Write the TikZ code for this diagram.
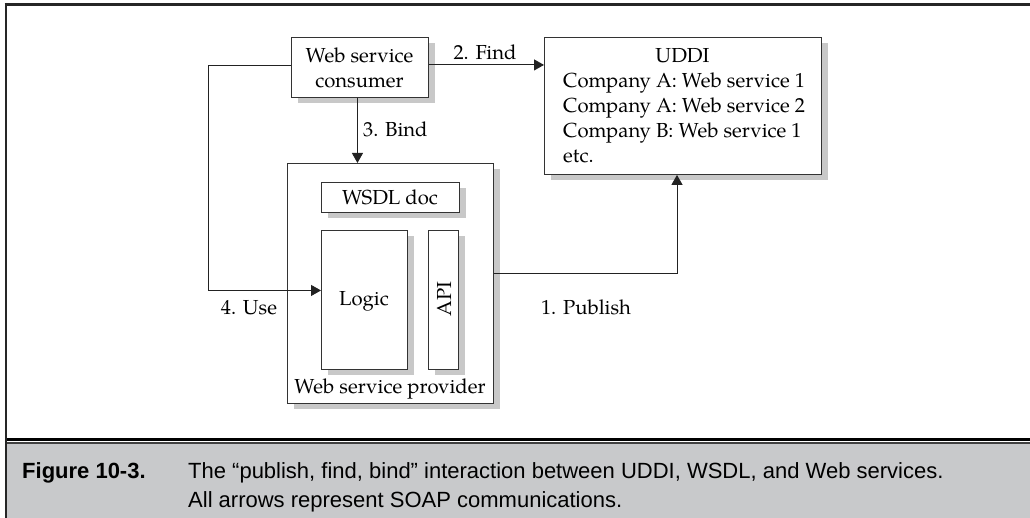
\documentclass[tikz,border=0pt]{standalone}
\usepackage{fontspec}
\setmainfont{TeX Gyre Pagella}
\newfontfamily\capfont{Liberation Sans}
\usetikzlibrary{arrows.meta,shadows}
\definecolor{shadowgray}{HTML}{C8C8C8}
\definecolor{capgray}{HTML}{C8C9CB}
\definecolor{boxline}{HTML}{333333}
\definecolor{conline}{HTML}{222222}
\tikzset{
  box/.style={draw=boxline, fill=white, line width=0.9pt, inner sep=0pt, anchor=north west,
    drop shadow={shadow xshift=7pt, shadow yshift=-6pt, fill=shadowgray, opacity=1}},
  txt/.style={font=\fontsize{20.3}{25}\selectfont, inner sep=0pt, anchor=base},
  ltxt/.style={txt, anchor=base west},
  captxt/.style={font=\capfont\fontsize{22}{30}\selectfont, inner sep=0pt, anchor=base west},
  conn/.style={draw=conline, line width=0.9pt},
  arr/.style={conn, -{Triangle[length=10pt,width=11pt]}},
}
\begin{document}
\begin{tikzpicture}[x=1pt,y=-1pt]
\useasboundingbox (0,0) rectangle (1030,518);
% caption area
\fill[capgray] (5,443) rectangle (1030,518);
\draw[black, line width=3pt] (5,439.5) -- (1030,439.5);
\draw[black!75, line width=1.2pt] (5,443) -- (1030,443);
\draw[black!85, line width=3pt] (4.5,4.5) -- (1030,4.5);
\draw[black!85, line width=2.5pt] (6,3) -- (6,518);
% boxes
\node[box, minimum width=137pt, minimum height=60pt] (consumer) at (291,37) {};
\node[txt] (consumer1) at (359.5,63) {Web service};
\node[txt] (consumer2) at (359.5,88) {consumer};
\node[box, minimum width=277pt, minimum height=137pt] (uddi) at (544,37) {};
\node[txt] (uddititle) at (682.5,63) {UDDI};
\node[ltxt] (uddil1) at (563,88) {Company A: Web service 1};
\node[ltxt] (uddil2) at (563,113) {Company A: Web service 2};
\node[ltxt] (uddil3) at (563,138) {Company B: Web service 1};
\node[ltxt] (uddil4) at (563,163) {etc.};
\node[box, minimum width=206pt, minimum height=240pt] (provider) at (287,163) {};
\node[box, minimum width=138pt, minimum height=30pt] (wsdl) at (321,182) {};
\node[txt] (wsdltxt) at (390,205) {WSDL doc};
\node[box, minimum width=86pt, minimum height=139pt] (logic) at (321,230) {};
\node[txt] (logictxt) at (364,306) {Logic};
\node[box, minimum width=30pt, minimum height=139pt] (api) at (428,230) {};
\node[txt, anchor=center, rotate=90] (apitxt) at (444,299) {API};
\node[txt] (provtxt) at (390,393) {Web service provider};
% connectors
\coordinate (usex) at (208,0);
\coordinate (pubx) at (677,0);
\draw[arr] ([yshift=2.5pt]consumer.east) -- ([yshift=2.5pt]consumer.east -| uddi.west);
\node[txt] (findlbl) at (485,60) {2. Find};
\draw[arr] ([xshift=-2.5pt]consumer.south) -- ([xshift=-2.5pt]consumer.south |- provider.north);
\node[ltxt] (bindlbl) at (363,136.5) {3. Bind};
\draw[arr] ([yshift=2pt]consumer.west) -- ([yshift=2pt]consumer.west -| usex) |- ([yshift=9.5pt]logic.west);
\node[txt] (uselbl) at (249,315) {4. Use};
\draw[arr] ([yshift=9.5pt]provider.east) -| (pubx |- uddi.south);
\node[txt] (publbl) at (586,315) {1. Publish};
% caption
\node[captxt, font=\capfont\bfseries\fontsize{22}{30}\selectfont] (figlbl) at (22,478) {Figure 10-3.};
\node[captxt] (cap1) at (188,478) {The “publish, find, bind” interaction between UDDI, WSDL, and Web services.};
\node[captxt] (cap2) at (188,507) {All arrows represent SOAP communications.};
\end{tikzpicture}
\end{document}
